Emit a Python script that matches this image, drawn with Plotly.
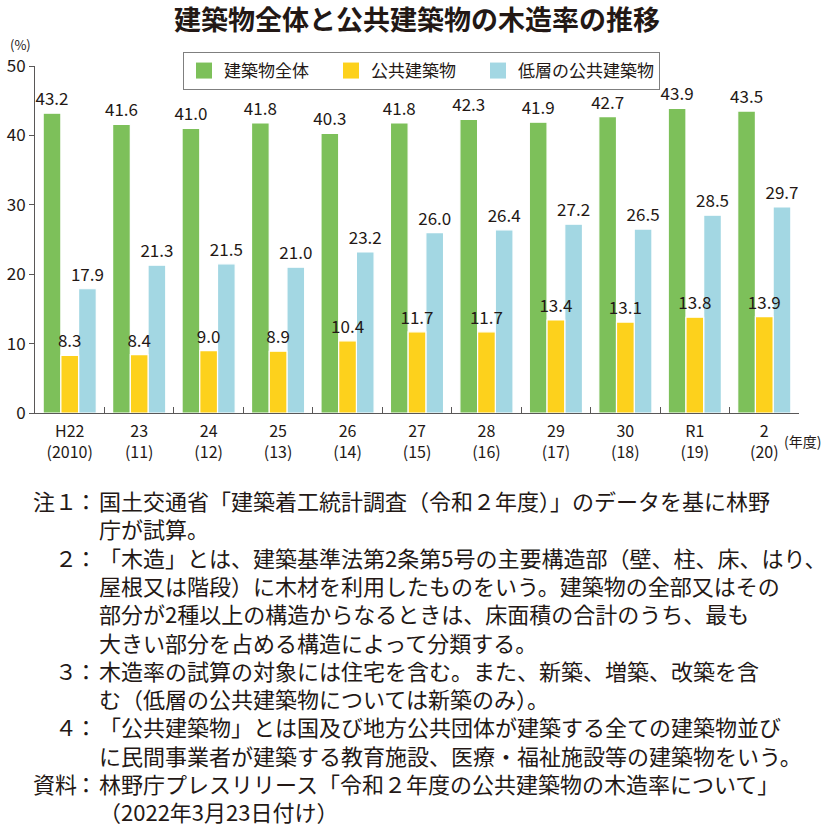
import plotly.graph_objects as go

years = ["H22<br>(2010)", "23<br>(11)", "24<br>(12)", "25<br>(13)", "26<br>(14)", "27<br>(15)",
         "28<br>(16)", "29<br>(17)", "30<br>(18)", "R1<br>(19)", "2<br>(20)"]
all_buildings = [43.2, 41.6, 41.0, 41.8, 40.3, 41.8, 42.3, 41.9, 42.7, 43.9, 43.5]
public_buildings = [8.3, 8.4, 9.0, 8.9, 10.4, 11.7, 11.7, 13.4, 13.1, 13.8, 13.9]
lowrise_public = [17.9, 21.3, 21.5, 21.0, 23.2, 26.0, 26.4, 27.2, 26.5, 28.5, 29.7]
series_names = ["建築物全体", "公共建築物", "低層の公共建築物"]
series_colors = ["#7DC05A", "#FDD11C", "#A3D7E3"]

title_text = "建築物全体と公共建築物の木造率の推移"
note_labels = ["注１", "", "２", "", "", "", "３", "", "４", "", "資料", ""]
note_lines = [
    "国土交通省「建築着工統計調査（令和２年度）」のデータを基に林野",
    "庁が試算。",
    "「木造」とは、建築基準法第2条第5号の主要構造部（壁、柱、床、はり、",
    "屋根又は階段）に木材を利用したものをいう。建築物の全部又はその",
    "部分が2種以上の構造からなるときは、床面積の合計のうち、最も",
    "大きい部分を占める構造によって分類する。",
    "木造率の試算の対象には住宅を含む。また、新築、増築、改築を含",
    "む（低層の公共建築物については新築のみ）。",
    "「公共建築物」とは国及び地方公共団体が建築する全ての建築物並び",
    "に民間事業者が建築する教育施設、医療・福祉施設等の建築物をいう。",
    "林野庁プレスリリース「令和２年度の公共建築物の木造率について」",
    "（2022年3月23日付け）",
]

W, H = 829, 830
L, R, T, B = 35, 30, 66, 417
PW, PH = W - L - R, H - T - B
FONT = "Noto Sans CJK JP"
TXT = "#231815"
AX = "#595757"

def px(x):
    return (x - L) / PW

def py(y):
    return (H - B - y) / PH

BW = 0.255
offsets = [-1.5 * BW, -0.5 * BW, 0.5 * BW]
series_vals = [all_buildings, public_buildings, lowrise_public]

fig = go.Figure()
# draw order: green, blue, yellow (yellow labels on top); positions fixed by offsets
for idx in [0, 2, 1]:
    fig.add_trace(go.Bar(
        x=years, y=series_vals[idx], name=series_names[idx], showlegend=False,
        width=BW, offset=offsets[idx],
        marker=dict(color=series_colors[idx], line=dict(color="white", width=1.2)),
        texttemplate="%{y:.1f}", textposition="outside",
        textfont=dict(family=FONT, size=17, color=TXT),
        constraintext="none", cliponaxis=False,
    ))
# legend entries
pad = ["\u3000", "\u3000", ""]
for name, col, p in zip(series_names, series_colors, pad):
    fig.add_trace(go.Scatter(
        x=[None], y=[None], mode="markers", name=name + p,
        marker=dict(symbol="square", size=16, color=col),
    ))

annotations = [
    dict(text="(%)", x=px(20), y=py(44), xref="paper", yref="paper", showarrow=False,
         xanchor="center", yanchor="middle",
         font=dict(family=FONT, size=13, color=TXT)),
    dict(text="(年度)", x=px(782), y=py(441), xref="paper", yref="paper", showarrow=False,
         xanchor="left", yanchor="middle", font=dict(family=FONT, size=14, color=TXT)),
]
line_y0, line_dy = 500, 28.3
NF = 22
for i, (lab, line) in enumerate(zip(note_labels, note_lines)):
    yy = py(line_y0 + i * line_dy)
    if lab:
        annotations.append(dict(text=lab, x=px(79), y=yy, xref="paper", yref="paper",
                                showarrow=False, xanchor="right", yanchor="middle",
                                font=dict(family=FONT, size=NF, color=TXT)))
        annotations.append(dict(text="：", x=px(86), y=yy, xref="paper", yref="paper",
                                showarrow=False, xanchor="center", yanchor="middle",
                                font=dict(family=FONT, size=NF, color=TXT)))
    annotations.append(dict(text=line, x=px(97), y=yy, xref="paper", yref="paper",
                            showarrow=False, xanchor="left", yanchor="middle",
                            font=dict(family=FONT, size=NF, color=TXT)))

fig.update_layout(
    width=W, height=H,
    margin=dict(l=L, r=R, t=T, b=B, autoexpand=False),
    paper_bgcolor="white", plot_bgcolor="white",
    barmode="overlay",
    title=dict(text="<b>" + title_text + "</b>", x=0.5, xref="paper", xanchor="center",
               y=1 - 21 / H, yanchor="middle",
               font=dict(family=FONT, size=27, color=TXT)),
    legend=dict(orientation="h", x=px(183), y=py(52), xanchor="left", yanchor="top",
                bordercolor="#7F7F7F", borderwidth=1, bgcolor="white",
                font=dict(family=FONT, size=17, color=TXT), traceorder="normal"),
    xaxis=dict(showline=True, linecolor=AX, linewidth=1, ticks="inside", ticklen=6,
               tickcolor=AX, tickson="boundaries", showgrid=False, automargin=False,
               range=[-0.5, 10.5], ticklabelstandoff=4,
               tickfont=dict(family=FONT, size=16, color=TXT)),
    yaxis=dict(range=[0, 50], dtick=10, showline=True, linecolor=AX, linewidth=1,
               ticks="outside", ticklen=5, tickcolor=AX, showgrid=False, zeroline=False,
               automargin=False,
               tickfont=dict(family=FONT, size=17, color=TXT)),
    annotations=annotations,
    font=dict(family=FONT, color=TXT),
)

fig.write_html("out.html", config={"displayModeBar": False},
               post_script="document.body.style.margin='0';")
